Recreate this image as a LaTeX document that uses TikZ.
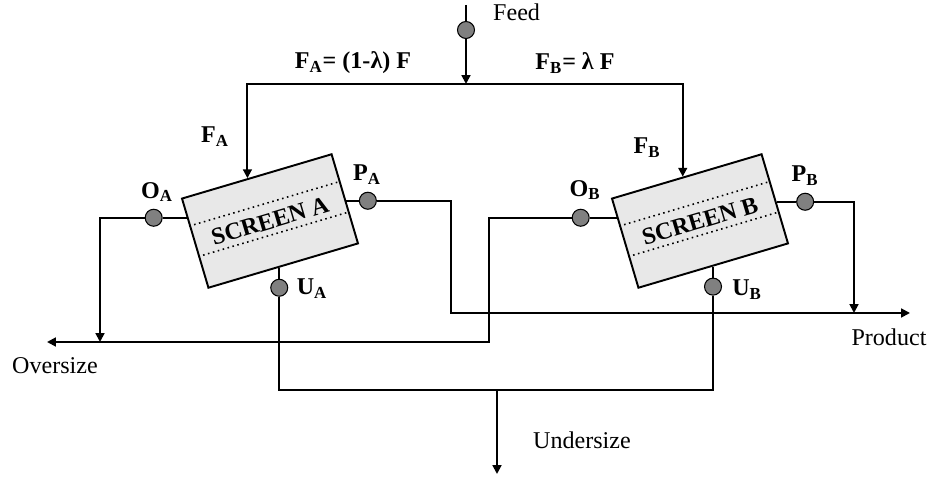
\documentclass[tikz,border=0pt]{standalone}
\usepackage{fontspec}
\setmainfont{Liberation Serif}
\usetikzlibrary{arrows.meta,calc}

\tikzset{
    every node/.style={font=\fontsize{13.7}{16}\selectfont},
    screen/.style={draw, line width=1.1pt, fill=black!9, rotate=16.5,
        minimum width=3.12cm, minimum height=1.86cm, inner sep=0pt,
        font=\fontsize{13.7}{16}\selectfont\bfseries},
    port/.style={circle, draw, line width=0.6pt, fill=black!50,
        minimum size=0.34cm, inner sep=0pt},
    pipe/.style={line width=1.1pt},
    flow/.style={pipe, -{Triangle[length=5pt,width=5pt]}},
    lbl/.style={font=\fontsize{13.7}{16}\selectfont\bfseries}
}

\begin{document}
\begin{tikzpicture}
    \useasboundingbox (0,0) rectangle (18.64,9.56);

    % screens
    \node[screen] (scrA) at (5.40,5.14) {SCREEN A};
    \node[screen] (scrB) at (14.00,5.14) {SCREEN B};
    \foreach \s in {scrA,scrB} {%
        \foreach \f in {0.31,0.645} {%
            \draw[dotted, line width=0.9pt]
                ($(\s.north west)!\f!(\s.south west)$) --
                ($(\s.north east)!\f!(\s.south east)$);
        }
    }

    % points on the screen edges
    \coordinate (fA) at ($(scrA.north west)!0.44!(scrA.north east)$);
    \coordinate (fB) at ($(scrB.north west)!0.475!(scrB.north east)$);
    \coordinate (eoA) at ($(scrA.north west)!0.218!(scrA.south west)$);
    \coordinate (eoB) at ($(scrB.north west)!0.218!(scrB.south west)$);
    \coordinate (epA) at ($(scrA.north east)!0.524!(scrA.south east)$);
    \coordinate (epB) at ($(scrB.north east)!0.535!(scrB.south east)$);
    \coordinate (euA) at ($(scrA.south west)!0.472!(scrA.south east)$);
    \coordinate (euB) at ($(scrB.south west)!0.497!(scrB.south east)$);

    % sample points
    \node[port] (oA) at ($(eoA)+(-0.66,0)$) {};
    \node[port] (oB) at ($(eoB)+(-0.72,0)$) {};
    \node[port] (pA) at ($(epA)+(0.43,0)$) {};
    \node[port] (pB) at ($(epB)+(0.57,0)$) {};
    \node[port] (uA) at ($(euA)+(0,-0.40)$) {};
    \node[port] (uB) at ($(euB)+(0,-0.40)$) {};

    \coordinate (feedtop) at (9.32,9.46);
    \node[port] (feed) at (9.32,8.96) {};
    \coordinate (join) at (9.32,7.88);
    \coordinate (over) at (0.94,2.72);
    \coordinate (prod) at (18.20,3.30);
    \coordinate (ujoin) at (9.94,1.76);
    \coordinate (under) at (9.94,0.08);

    % feed split
    \draw[pipe] (feedtop) -- (feed);
    \draw[flow] (feed) -- (join);
    \draw[flow] (join) -| (fA);
    \draw[flow] (join) -| (fB);

    % screen outlets
    \draw[pipe] (eoA) -- (oA);
    \draw[pipe] (eoB) -- (oB);
    \draw[pipe] (epA) -- (pA);
    \draw[pipe] (epB) -- (pB);
    \draw[pipe] (euA) -- (uA);
    \draw[pipe] (euB) -- (uB);

    \draw[flow] (oA) -| (2.00,2.72);
    \draw[flow] (oB) -| (9.78,2.72) -- (over);
    \draw[flow] (pA) -| (9.02,3.30) -- (prod);
    \draw[flow] (pB) -| (17.08,3.30);
    \draw[pipe] (uA) |- (ujoin) -| (uB);
    \draw[flow] (ujoin) -- (under);

    % labels
    \node[lbl] (splitA) at (7.06,8.30) {F\textsubscript{A}= (1-λ) F};
    \node[lbl] (splitB) at (11.50,8.30) {F\textsubscript{B}= λ F};
    \node[lbl] (lfA) at (4.30,6.82) {F\textsubscript{A}};
    \node[lbl] (lfB) at (12.94,6.60) {F\textsubscript{B}};
    \node[lbl] (loA) at (3.14,5.72) {O\textsubscript{A}};
    \node[lbl] (lpA) at (7.34,6.06) {P\textsubscript{A}};
    \node[lbl] (luA) at (6.24,3.78) {U\textsubscript{A}};
    \node[lbl] (loB) at (11.70,5.76) {O\textsubscript{B}};
    \node[lbl] (lpB) at (16.10,6.04) {P\textsubscript{B}};
    \node[lbl] (luB) at (14.94,3.76) {U\textsubscript{B}};
    \node[anchor=west] (feedlbl) at (9.74,9.32) {Feed};
    \node (oversize) at (1.10,2.24) {Oversize};
    \node (product) at (17.78,2.82) {Product};
    \node (undersize) at (11.64,0.76) {Undersize};

\end{tikzpicture}
\end{document}
